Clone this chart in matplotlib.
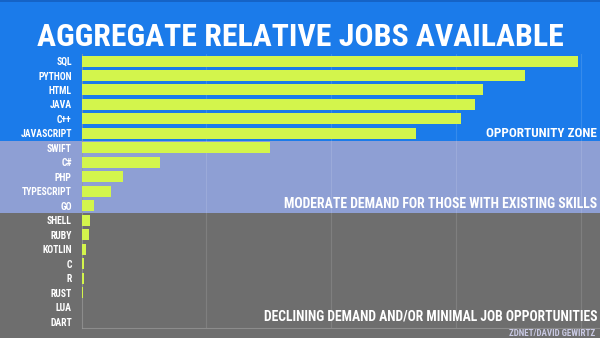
"""
Aggregate relative jobs available per programming language,
grouped into demand zones.
"""

import os
import matplotlib
matplotlib.use("Agg")
import matplotlib.pyplot as plt
import matplotlib.transforms as mtransforms
from matplotlib import font_manager
from matplotlib.font_manager import FontProperties
from matplotlib.patches import Rectangle

languages = ["SQL", "PYTHON", "HTML", "JAVA", "C++", "JAVASCRIPT", "SWIFT",
             "C#", "PHP", "TYPESCRIPT", "GO", "SHELL", "RUBY", "KOTLIN",
             "C", "R", "RUST", "LUA", "DART"]
relative_jobs = [397, 355, 321, 315, 304, 268, 151, 63, 33, 24, 10, 7, 6,
                 3.6, 2, 2, 1, 0.3, 0.2]

# zones: (first index, last index, label)
zones = [
    (0, 5, "OPPORTUNITY ZONE"),
    (6, 10, "MODERATE DEMAND FOR THOSE WITH EXISTING SKILLS"),
    (11, 18, "DECLINING DEMAND AND/OR MINIMAL JOB OPPORTUNITIES"),
]
zone_colors = ["#1b7bea", "#8e9fd4", "#6e6e6e"]

title = "AGGREGATE RELATIVE JOBS AVAILABLE"
credit = "ZDNET/DAVID GEWIRTZ"

BAR_COLOR = "#d3f54c"
W, H = 600, 338


def pick_narrow_bold():
    """Find a bold condensed face file; fall back to DejaVu Sans Bold."""
    preferred = ["RobotoCondensed-Bold", "LiberationSansNarrow-Bold",
                 "DejaVuSansCondensed-Bold", "OpenSansCondensed-Bold",
                 "NotoSans-CondensedBold"]
    files = [e.fname for e in font_manager.fontManager.ttflist]
    for key in preferred:
        for f in files:
            if os.path.basename(f).startswith(key) and "Italic" not in f:
                return FontProperties(fname=f)
    for f in files:
        base = os.path.basename(f)
        if ("Narrow" in base or "Condensed" in base) and "Bold" in base \
                and "Italic" not in base and "Oblique" not in base:
            return FontProperties(fname=f)
    return FontProperties(family="DejaVu Sans", weight="bold")


FP = pick_narrow_bold()


def fit_width(txt, target_px, renderer):
    """Scale a text's size so its rendered width is target_px."""
    w = txt.get_window_extent(renderer).width
    txt.set_fontsize(txt.get_fontsize() * target_px / w)


fig = plt.figure(figsize=(6, 3.38), dpi=100)
fig.patch.set_facecolor(zone_colors[0])
# thin darker strip along the top edge
fig.patches.append(Rectangle((0, 1 - 2 / H), 1, 2 / H, transform=fig.transFigure,
                             facecolor="#1563c6", edgecolor="none", zorder=-1))

# axes placed in pixel terms: left edge 81.5px, top 53.8px, bottom 328px
ax = fig.add_axes([81.5 / W, 1 - 328 / H, 1 - 81.5 / W, (328 - 53.8) / H])
ax.set_facecolor("none")

y = list(range(len(languages)))
ax.barh(y, relative_jobs, height=0.76, color=BAR_COLOR, zorder=3)
ax.set_ylim(len(languages) - 0.56, -0.5)
ax.set_xlim(0, 415)

ax.set_yticks(y)
ax.set_yticklabels(languages, color="white")
ax.tick_params(axis="y", length=0, pad=7)
ax.set_xticks([100, 200, 300, 400])
ax.tick_params(axis="x", length=0, labelbottom=False)
ax.grid(axis="x", color="white", alpha=0.12, linewidth=0.8, zorder=1)

for side in ["top", "right"]:
    ax.spines[side].set_visible(False)
for side in ["left", "bottom"]:
    ax.spines[side].set_color("#9a9a9a")
    ax.spines[side].set_linewidth(0.8)
    ax.spines[side].set_alpha(0.7)

# zone bands span the whole figure width, rows are in data units
band_tf = mtransforms.blended_transform_factory(fig.transFigure, ax.transData)
for (start, end, label), color in zip(zones[1:], zone_colors[1:]):
    top = start - 0.5
    bottom = end + 0.5 if end < len(languages) - 1 else end + 5
    fig.patches.append(Rectangle((0, top), 1, bottom - top, transform=band_tf,
                                 facecolor=color, edgecolor="none", zorder=-1))

renderer = fig.canvas.get_renderer()

# zone labels sit near the bottom of each band, right aligned
label_rows = [5.23, 10.15, 17.9]
label_widths = [111, 313, 335]
for (start, end, label), row, width in zip(zones, label_rows, label_widths):
    t = fig.text(597 / W, row, label, transform=band_tf, ha="right",
                 va="baseline", color="white", fontproperties=FP, fontsize=13)
    fit_width(t, width, renderer)

t = fig.text(0.5, 1 - 46 / H, title, ha="center", va="baseline",
             color="white", fontproperties=FP, fontsize=30)
fit_width(t, 526, renderer)

t = fig.text(595 / W, 1 - 336 / H, credit, ha="right", va="baseline",
             color="#c9c9e3", fontproperties=FP, fontsize=7)
fit_width(t, 85, renderer)

# tick labels: size set from the width of the longest name
for lbl in ax.get_yticklabels():
    lbl.set_fontproperties(FP)
    lbl.set_fontsize(7)
fig.canvas.draw()
longest = max(ax.get_yticklabels(), key=lambda l: l.get_window_extent(renderer).width)
scale = 52 / longest.get_window_extent(renderer).width
for lbl in ax.get_yticklabels():
    lbl.set_fontsize(lbl.get_fontsize() * scale)

fig.savefig("out.png", dpi=100, facecolor=fig.get_facecolor())
